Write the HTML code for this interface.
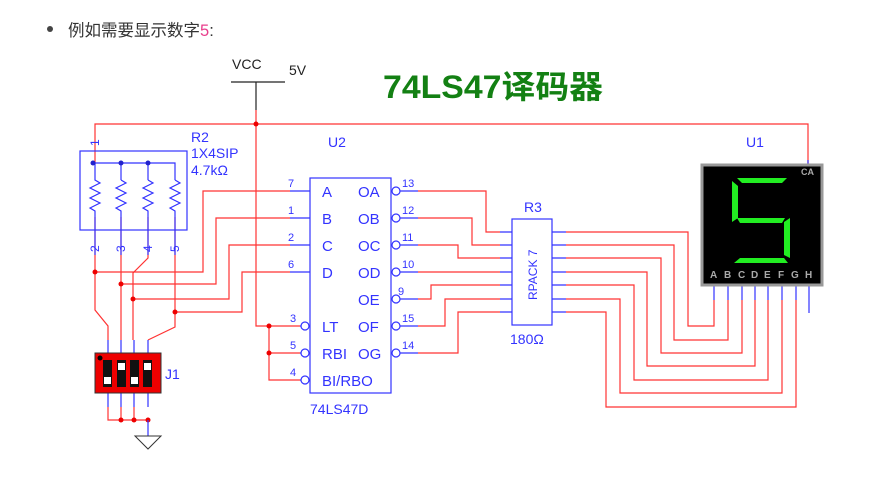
<!DOCTYPE html>
<html><head><meta charset="utf-8"><style>
body{margin:0;background:#fff;width:873px;height:478px;overflow:hidden}
svg{position:absolute;left:0;top:0}
</style></head><body>
<svg width="873" height="478" viewBox="0 0 873 478" xmlns="http://www.w3.org/2000/svg" font-family="Liberation Sans, sans-serif">
<circle cx="50" cy="29" r="3" fill="#444"/>
<text x="68" y="36" font-size="16.5" fill="#333" font-family="Liberation Sans, Noto Sans CJK SC, sans-serif">例如需要显示数字<tspan fill="#e83e8c">5</tspan>:</text>
<text x="383" y="98" font-size="32" font-weight="bold" fill="#138013" textLength="220" lengthAdjust="spacingAndGlyphs" font-family="Liberation Sans, Noto Sans CJK SC, sans-serif">74LS47译码器</text>
<!-- VCC -->
<text x="232" y="69" font-size="14" fill="#222">VCC</text>
<text x="289" y="75" font-size="14" fill="#222">5V</text>
<line x1="231" y1="82" x2="285" y2="82" stroke="#222" stroke-width="1.2"/>
<line x1="256" y1="82" x2="256" y2="110" stroke="#222" stroke-width="1.2"/>
<g fill="none" stroke="#f33" stroke-width="1.2">
<path d="M256 110V326H300M269 326V380H300M269 353H300"/>
<path d="M95 163V124H808V165"/>
<path d="M95 217V310L108 326V340M121 217V340M148 217V258L133 273V340M175 217V327L148 340V340"/>
<path d="M108 407V420H148M121 407V420M134 407V420"/>
<path d="M95 272H203V191H290M121 284H216V218H290M133 299H229V245H290M175 312H242V272H290"/>
<path d="M418 191H486V232H500M418 218H472V245H500M418 245H458V258H500M418 272H500M418 299H431V285H500M418 326H445V299H500M418 353H458V312H500"/>
<path d="M566 232H688V326H714V300M566 245H674V340H728V300M566 258H661V353H742V300M566 272H647V366H755V300M566 285H634V380H768V300M566 299H620V393H782V300M566 312H606V407H796V300"/>
</g>
<g fill="#e00">
<circle cx="256" cy="124" r="2.5"/><circle cx="269" cy="326" r="2.5"/><circle cx="269" cy="353" r="2.5"/>
<circle cx="95" cy="272" r="2.5"/><circle cx="121" cy="284" r="2.5"/><circle cx="133" cy="299" r="2.5"/><circle cx="175" cy="312" r="2.5"/>
<circle cx="121" cy="420" r="2.5"/><circle cx="134" cy="420" r="2.5"/><circle cx="148" cy="420" r="2.5"/>
</g>
<!-- R2 -->
<g stroke="#33f" fill="none" stroke-width="1.2">
<rect x="80" y="151" width="107" height="79"/>
<path d="M95 163H175V180M121 163V180M148 163V180"/>
<path d="M95 163V180l5 3-10 5 10 5-10 5 10 5-10 5 5 3V230M121 180l5 3-10 5 10 5-10 5 10 5-10 5 5 3V230M148 180l5 3-10 5 10 5-10 5 10 5-10 5 5 3V230M175 180l5 3-10 5 10 5-10 5 10 5-10 5 5 3V230"/>
<line x1="95" y1="230" x2="95" y2="255"/><line x1="121" y1="230" x2="121" y2="255"/><line x1="148" y1="230" x2="148" y2="255"/><line x1="175" y1="230" x2="175" y2="255"/>
</g>
<g fill="#22c"><circle cx="93" cy="163" r="2.5"/><circle cx="121" cy="163" r="2.5"/><circle cx="148" cy="163" r="2.5"/></g>
<g font-size="12" fill="#33f">
<text transform="translate(99,146) rotate(-90)">1</text>
<text transform="translate(99,252) rotate(-90)">2</text>
<text transform="translate(125,252) rotate(-90)">3</text>
<text transform="translate(152,252) rotate(-90)">4</text>
<text transform="translate(179,252) rotate(-90)">5</text>
</g>
<g font-size="14" fill="#33f">
<text x="191" y="142">R2</text><text x="191" y="158">1X4SIP</text><text x="191" y="175">4.7kΩ</text>
<text x="328" y="147">U2</text><text x="310" y="414">74LS47D</text>
<text x="524" y="212">R3</text><text x="510" y="344">180Ω</text>
<text x="165" y="379">J1</text><text x="746" y="147">U1</text>
</g>
<!-- J1 -->
<g stroke="#33f" stroke-width="1.2"><path d="M108 340V353M121 340V353M134 340V353M148 340V353M108 393V407M121 393V407M134 393V407M148 393V407M148 420V436"/></g>
<rect x="95" y="353" width="66" height="40" fill="#e00" stroke="#333"/>
<circle cx="100" cy="358" r="2.5" fill="#000"/>
<g fill="#111"><rect x="103" y="360" width="9" height="27"/><rect x="117" y="360" width="9" height="27"/><rect x="130" y="360" width="9" height="27"/><rect x="143" y="360" width="9" height="27"/></g>
<g fill="#fff"><rect x="104" y="377" width="7" height="7"/><rect x="118" y="363" width="7" height="7"/><rect x="131" y="377" width="7" height="7"/><rect x="144" y="363" width="7" height="7"/></g>
<path d="M135 436H161L148 449Z" fill="none" stroke="#333"/>
<!-- U2 -->
<g stroke="#33f" fill="none" stroke-width="1.2">
<rect x="310" y="178" width="81" height="215"/>
<path d="M290 191H310M290 218H310M290 245H310M290 272H310M300 326H301M300 353H301M300 380H301"/>
<path d="M400 191H418M400 218H418M400 245H418M400 272H418M400 299H418M400 326H418M400 353H418"/>
<circle cx="305" cy="326" r="4"/><circle cx="305" cy="353" r="4"/><circle cx="305" cy="380" r="4"/>
<circle cx="396" cy="191" r="4"/><circle cx="396" cy="218" r="4"/><circle cx="396" cy="245" r="4"/><circle cx="396" cy="272" r="4"/><circle cx="396" cy="299" r="4"/><circle cx="396" cy="326" r="4"/><circle cx="396" cy="353" r="4"/>
<rect x="512" y="219" width="40" height="106"/>
<path d="M500 232H512M500 245H512M500 258H512M500 272H512M500 285H512M500 299H512M500 312H512M552 232H566M552 245H566M552 258H566M552 272H566M552 285H566M552 299H566M552 312H566"/>
<path d="M714 286V300M728 286V300M742 286V300M755 286V300M768 286V300M782 286V300M796 286V300M809 286V313M808 160V165"/>
</g>
<g font-size="15" fill="#33f">
<text x="322" y="197">A</text><text x="322" y="224">B</text><text x="322" y="251">C</text><text x="322" y="278">D</text>
<text x="322" y="332">LT</text><text x="322" y="359">RBI</text><text x="322" y="386">BI/RBO</text>
<text x="358" y="197">OA</text><text x="358" y="224">OB</text><text x="358" y="251">OC</text><text x="358" y="278">OD</text><text x="358" y="305">OE</text><text x="358" y="332">OF</text><text x="358" y="359">OG</text>
</g>
<g font-size="11" fill="#33f">
<text x="288" y="187">7</text><text x="288" y="214">1</text><text x="288" y="241">2</text><text x="288" y="268">6</text>
<text x="290" y="322">3</text><text x="290" y="349">5</text><text x="290" y="376">4</text>
<text x="402" y="187">13</text><text x="402" y="214">12</text><text x="402" y="241">11</text><text x="402" y="268">10</text><text x="398" y="295">9</text><text x="402" y="322">15</text><text x="402" y="349">14</text>
</g>
<text transform="translate(537,300) rotate(-90)" font-size="12" fill="#33f">RPACK 7</text>
<!-- Display -->
<rect x="702" y="165" width="120" height="120" fill="#000" stroke="#999" stroke-width="3"/>
<g fill="#2e2">
<polygon points="737,178 787,178 782,183 742,183"/>
<polygon points="732,181 738,186 738,218 732,222"/>
<polygon points="737,218 785,218 782,223 740,223"/>
<polygon points="784,222 790,218 790,258 784,255"/>
<polygon points="740,258 784,258 788,263 734,263"/>
</g>
<text x="801" y="175" font-size="9" fill="#aaa" font-weight="bold">CA</text>
<g font-size="10" fill="#aaa" font-weight="bold">
<text x="710" y="278">A</text><text x="724" y="278">B</text><text x="738" y="278">C</text><text x="751" y="278">D</text><text x="764" y="278">E</text><text x="778" y="278">F</text><text x="791" y="278">G</text><text x="805" y="278">H</text>
</g>
</svg>
</body></html>
